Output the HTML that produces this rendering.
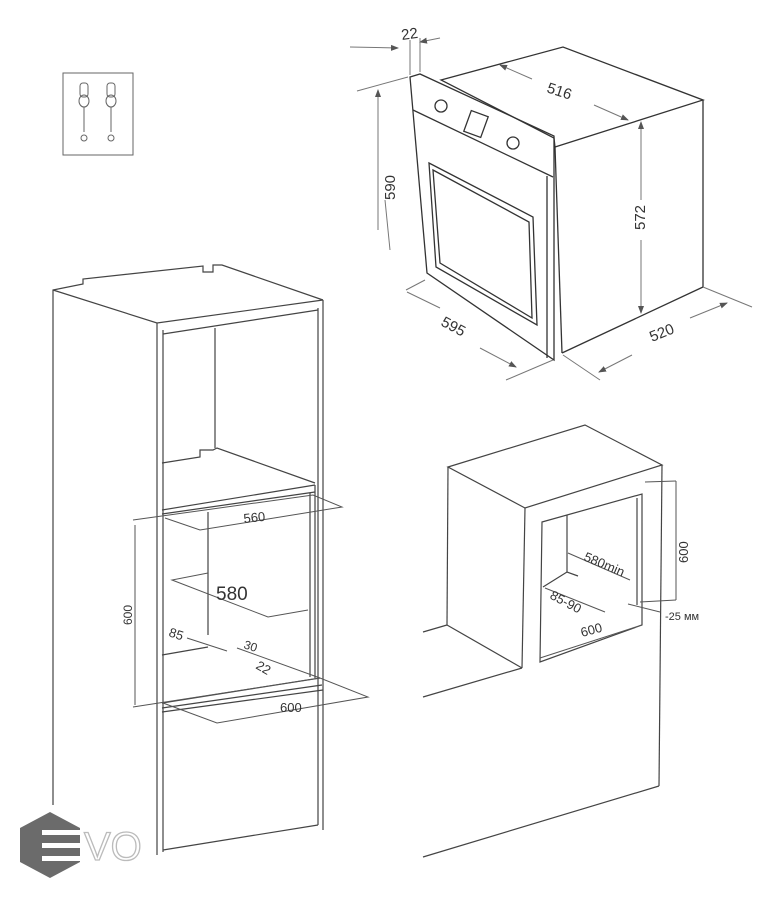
<!DOCTYPE html>
<html><head><meta charset="utf-8"><style>
html,body{margin:0;padding:0;background:#fff;}
svg{display:block;font-family:"Liberation Sans",sans-serif;}
</style></head><body>
<svg width="764" height="900" viewBox="0 0 764 900" xmlns="http://www.w3.org/2000/svg">
<defs><marker id="a" markerWidth="8" markerHeight="8" refX="7" refY="4" orient="auto"><path d="M0,1 L8,4 L0,7z" fill="#555"/></marker></defs>
<rect width="764" height="900" fill="#fff"/>
<!-- screws box -->
<g stroke="#666" fill="none" stroke-width="1">
<rect x="63" y="73" width="70" height="82"/>
<rect x="80" y="83" width="8" height="14" rx="3"/><rect x="107" y="83" width="8" height="14" rx="3"/>
<ellipse cx="84" cy="101" rx="5" ry="6"/><ellipse cx="111" cy="101" rx="5" ry="6"/>
<line x1="84" y1="107" x2="84" y2="132"/><line x1="111" y1="107" x2="111" y2="132"/>
<circle cx="84" cy="138" r="3"/><circle cx="111" cy="138" r="3"/>
</g>
<!-- oven -->
<g stroke="#333" fill="none" stroke-width="1.3">
<polygon points="441,80 563,47 703,100 555,147 554,138"/>
<line x1="703" y1="100" x2="703" y2="287"/>
<line x1="703" y1="287" x2="562" y2="353"/>
<line x1="555" y1="147" x2="562" y2="353"/>
<polygon points="410,77 420,74 554,136 554,360 427,273"/>
<line x1="413" y1="110" x2="553" y2="177"/>
<circle cx="441" cy="106" r="6"/><circle cx="513" cy="143" r="6"/>
<rect x="467" y="113" width="18" height="22" transform="rotate(20 476 124)"/>
<polygon points="429,163 533,217 537,325 436,267"/>
<polygon points="433,170 529,222 532,318 440,263"/>
<line x1="547" y1="176" x2="547" y2="358"/>
</g>
<g stroke="#777" fill="none" stroke-width="1">
<line x1="350" y1="47" x2="398" y2="48" marker-end="url(#a)"/><line x1="440" y1="38" x2="420" y2="42" marker-end="url(#a)"/>
<line x1="410" y1="40" x2="410" y2="75"/><line x1="420" y1="38" x2="420" y2="72"/>
<line x1="357" y1="91" x2="408" y2="77"/>
<line x1="378" y1="230" x2="378" y2="90" marker-end="url(#a)"/><line x1="390" y1="250" x2="385" y2="200"/>
<line x1="532" y1="79" x2="500" y2="65" marker-end="url(#a)"/>
<line x1="594" y1="105" x2="628" y2="120" marker-end="url(#a)"/>
<line x1="641" y1="200" x2="641" y2="122" marker-end="url(#a)"/><line x1="641" y1="240" x2="641" y2="313" marker-end="url(#a)"/>
<line x1="406" y1="290" x2="425" y2="280"/><line x1="407" y1="292" x2="440" y2="308"/>
<line x1="480" y1="348" x2="516" y2="367" marker-end="url(#a)"/><line x1="506" y1="380" x2="553" y2="360"/>
<line x1="703" y1="287" x2="752" y2="307"/><line x1="690" y1="318" x2="727" y2="303" marker-end="url(#a)"/>
<line x1="632" y1="355" x2="599" y2="372" marker-end="url(#a)"/><line x1="563" y1="355" x2="600" y2="380"/>
</g>
<g fill="#333" font-size="15">
<text x="402" y="40" transform="rotate(-8 402 40)">22</text>
<text x="546" y="92" transform="rotate(18 546 92)">516</text>
<text x="395" y="200" transform="rotate(-90 395 200)">590</text>
<text x="645" y="230" transform="rotate(-90 645 230)">572</text>
<text x="440" y="325" transform="rotate(28 440 325)">595</text>
<text x="652" y="342" transform="rotate(-22 652 342)">520</text>
</g>
<!-- left cabinet -->
<g stroke="#444" fill="none" stroke-width="1.2">
<polyline points="53,805 53,290 83,284 83,279 203,266 203,272 213,272 213,265 222,265 323,300"/>
<polyline points="53,290 157,323 323,300"/>
<line x1="157" y1="323" x2="157" y2="855"/><line x1="163" y1="330" x2="163" y2="852"/>
<line x1="323" y1="300" x2="323" y2="830"/><line x1="318" y1="308" x2="318" y2="825"/>
<line x1="163" y1="334" x2="318" y2="310"/>
<line x1="215" y1="328" x2="215" y2="448"/>
<polyline points="162,463 200,457 200,450 213,450 217,448 315,483"/>
<line x1="162" y1="510" x2="315" y2="485"/>
<line x1="162" y1="514" x2="315" y2="492"/>
<line x1="208" y1="512" x2="208" y2="635"/>
<line x1="310" y1="493" x2="310" y2="677"/>
<line x1="315" y1="485" x2="315" y2="678"/>
<line x1="162" y1="655" x2="208" y2="647"/>
<line x1="162" y1="703" x2="320" y2="678"/>
<line x1="162" y1="708" x2="322" y2="685"/>
<line x1="162" y1="712" x2="323" y2="690"/>
<line x1="163" y1="850" x2="318" y2="825"/>
</g>
<g stroke="#555" fill="none" stroke-width="1">
<polyline points="133,520 313,495 342,507 200,530 165,518"/>
<line x1="135" y1="525" x2="135" y2="705"/>
<polyline points="208,573 172,580 268,617 308,610"/>
<line x1="187" y1="638" x2="227" y2="651"/>
<line x1="237" y1="648" x2="320" y2="678"/>
<polyline points="133,707 320,678 368,697 217,723 163,703"/>
</g>
<g fill="#333">
<text x="244" y="523" font-size="13" transform="rotate(-6 244 523)">560</text>
<text x="216" y="600" font-size="19">580</text>
<text x="132" y="625" font-size="12" transform="rotate(-90 132 625)">600</text>
<text x="168" y="636" font-size="13" transform="rotate(18 168 636)">85</text>
<text x="243" y="648" font-size="12" transform="rotate(18 243 648)">30</text>
<text x="255" y="668" font-size="13" transform="rotate(30 255 668)">22</text>
<text x="280" y="712" font-size="13">600</text>
</g>
<!-- niche -->
<g stroke="#444" fill="none" stroke-width="1.2">
<polygon points="448,467 585,425 662,465 525,508"/>
<line x1="448" y1="467" x2="447" y2="625"/><line x1="525" y1="508" x2="522" y2="668"/>
<line x1="662" y1="465" x2="659" y2="786"/><line x1="659" y1="786" x2="423" y2="857"/>
<line x1="423" y1="632" x2="447" y2="625"/><line x1="447" y1="625" x2="522" y2="668"/>
<line x1="423" y1="697" x2="522" y2="668"/>
<polygon points="542,522 642,494 642,625 540,662"/>
<line x1="567" y1="515" x2="567" y2="572"/>
<line x1="637" y1="498" x2="637" y2="605"/>
<polyline points="543,587 567,572 578,576"/>
</g>
<g stroke="#555" fill="none" stroke-width="1">
<line x1="645" y1="482" x2="676" y2="481"/><line x1="676" y1="481" x2="676" y2="600"/><line x1="640" y1="602" x2="676" y2="600"/>
<line x1="568" y1="553" x2="630" y2="580"/>
<line x1="545" y1="588" x2="605" y2="612"/>
<line x1="628" y1="604" x2="660" y2="612"/>
<line x1="540" y1="658" x2="642" y2="625"/>
</g>
<g fill="#333" font-size="13">
<text x="583" y="560" transform="rotate(23 583 560)">580min</text>
<text x="549" y="598" transform="rotate(28 549 598)">85-90</text>
<text x="582" y="637" transform="rotate(-15 582 637)">600</text>
<text x="688" y="563" transform="rotate(-90 688 563)">600</text>
<text x="665" y="620" font-size="11">-25 мм</text>
</g>
<!-- logo -->
<polygon points="50,812 80,828 80,862 50,878 20,862 20,828" fill="#6b6b6b"/>
<g fill="#fff"><rect x="42" y="830" width="40" height="5"/><rect x="42" y="843" width="40" height="5"/><rect x="42" y="856" width="40" height="5"/></g>
<text x="84" y="860" font-size="40" fill="none" stroke="#bbb" stroke-width="1.3">VO</text>
</svg>
</body></html>
